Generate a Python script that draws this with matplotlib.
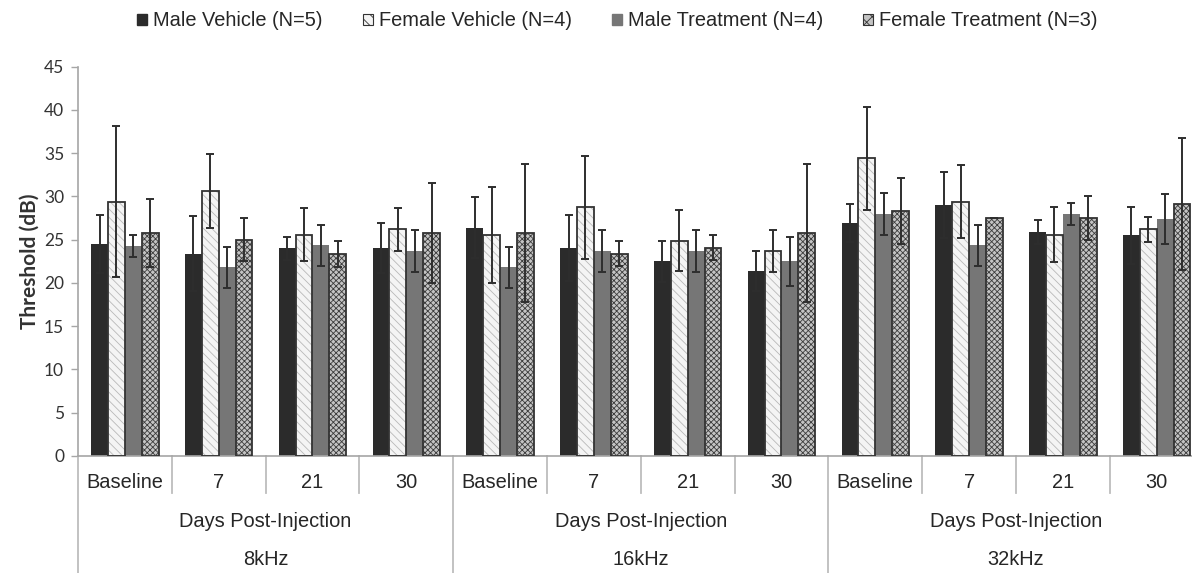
import matplotlib
matplotlib.use('Agg')
import matplotlib.pyplot as plt
from matplotlib.patches import Patch
import numpy as np

# dati
giorni = ['Baseline', '7', '21', '30']
frequenze = ['8kHz', '16kHz', '32kHz']
nomi_serie = ['Male Vehicle (N=5)', 'Female Vehicle (N=4)',
              'Male Treatment (N=4)', 'Female Treatment (N=3)']

male_vehicle = [24.5, 23.4, 24.0, 24.0, 26.4, 24.0, 22.5, 21.4, 26.9, 29.0, 25.9, 25.5]
male_vehicle_err = [3.3, 4.3, 1.3, 2.9, 3.5, 3.8, 2.4, 2.3, 2.2, 3.8, 1.4, 3.25]
female_vehicle = [29.4, 30.6, 25.6, 26.2, 25.6, 28.75, 24.9, 23.7, 34.4, 29.4, 25.6, 26.2]
female_vehicle_err = [8.7, 4.3, 3.1, 2.5, 5.55, 5.95, 3.5, 2.45, 5.95, 4.25, 3.15, 1.45]
male_treatment = [24.3, 21.8, 24.35, 23.7, 21.8, 23.7, 23.7, 22.5, 28.0, 24.35, 28.0, 27.4]
male_treatment_err = [1.3, 2.4, 2.4, 2.4, 2.4, 2.45, 2.45, 2.85, 2.4, 2.4, 1.25, 2.9]
female_treatment = [25.8, 25.0, 23.35, 25.8, 25.8, 23.4, 24.1, 25.8, 28.35, 27.5, 27.5, 29.1]
female_treatment_err = [3.9, 2.5, 1.5, 5.8, 8.0, 1.4, 1.45, 8.0, 3.8, 0.0, 2.5, 7.65]

plt.rcParams['hatch.linewidth'] = 0.6
font_x = 'Liberation Sans'
font_y = 'Lato'

fig = plt.figure(figsize=(11.92, 5.73), dpi=100)
ax = fig.add_axes([78 / 1192, 117 / 573, 1114 / 1192, 389.3 / 573])

n_cat = len(giorni) * len(frequenze)
x = np.arange(n_cat)
larg = 0.18

# stili: (colore, tratteggio, colore tratteggio, bordo)
stili = [
    ('#2b2b2b', None, None, None),
    ('#f4f4f4', '\\\\\\\\', '#b8b8b8', '#333333'),
    ('#767676', None, None, None),
    ('#c4c4c4', 'xxxxxx', '#3c3c3c', '#333333'),
]
valori = [male_vehicle, female_vehicle, male_treatment, female_treatment]
errori = [male_vehicle_err, female_vehicle_err, male_treatment_err, female_treatment_err]

maniglie = []
for k in range(4):
    pos = x + (k - 1.5) * larg
    col, hatch, hcol, bordo = stili[k]
    if hatch is None:
        ax.bar(pos, valori[k], larg, color=col, linewidth=0, zorder=2)
        maniglie.append(Patch(facecolor=col, edgecolor=col))
    else:
        ax.bar(pos, valori[k], larg, color=col, hatch=hatch, edgecolor=hcol, linewidth=0, zorder=2)
        ax.bar(pos, valori[k], larg, fill=False, edgecolor=bordo, linewidth=1.3, zorder=3)
        maniglie.append(Patch(facecolor=col, hatch=hatch[:3], edgecolor=bordo, linewidth=0.8))
    ax.errorbar(pos, valori[k], yerr=errori[k], fmt='none', ecolor='#2e2e2e',
                elinewidth=1.4, capsize=3.2, capthick=1.4, zorder=4)

ax.set_ylim(0, 45)
ax.set_yticks(range(0, 46, 5))
ax.set_xlim(-0.5, -0.5 + 1114 / 93.8)
ax.set_xticks([])
for lab in ax.get_yticklabels():
    lab.set_fontfamily(font_y)
    lab.set_fontsize(12.5)
    lab.set_color('#333333')
ax.tick_params(axis='y', length=5, width=1, color='#a6a6a6', pad=5)
ax.spines['top'].set_visible(False)
ax.spines['right'].set_visible(False)
ax.spines['left'].set_color('#a6a6a6')
ax.spines['bottom'].set_color('#a6a6a6')
ax.spines['left'].set_linewidth(1.2)
ax.spines['bottom'].set_linewidth(1.2)
ax.set_ylabel('Threshold (dB)', fontfamily=font_y, fontweight='bold', fontsize=15,
              color='#333333', labelpad=3)

# etichette dell'asse x su tre livelli
tr = ax.get_xaxis_transform()
for i in range(n_cat):
    ax.text(x[i], -0.0686, giorni[i % 4], transform=tr, ha='center', va='center',
            fontsize=14.4, fontfamily=font_x, color='#262626')
for g in range(len(frequenze)):
    centro = g * 4 + 1.5
    ax.text(centro, -0.167, 'Days Post-Injection', transform=tr, ha='center', va='center',
            fontsize=14.4, fontfamily=font_x, color='#262626')
    ax.text(centro, -0.2665, frequenze[g], transform=tr, ha='center', va='center',
            fontsize=14.4, fontfamily=font_x, color='#262626')
for i in range(n_cat):
    sx = i - 0.5
    fondo = -0.31 if i % 4 == 0 else -0.095
    ax.plot([sx, sx], [0, fondo], transform=tr, color='#bdbdbd', linewidth=1.3, clip_on=False)

fig.legend(maniglie, nomi_serie, loc='center', bbox_to_anchor=(0.518, 1 - 21 / 573),
           ncol=4, frameon=False, handlelength=0.5, handleheight=0.5, handletextpad=0.3,
           columnspacing=2.0, prop={'family': font_x, 'size': 14.4}, labelcolor='#262626')

fig.savefig('out.png', dpi=100)
